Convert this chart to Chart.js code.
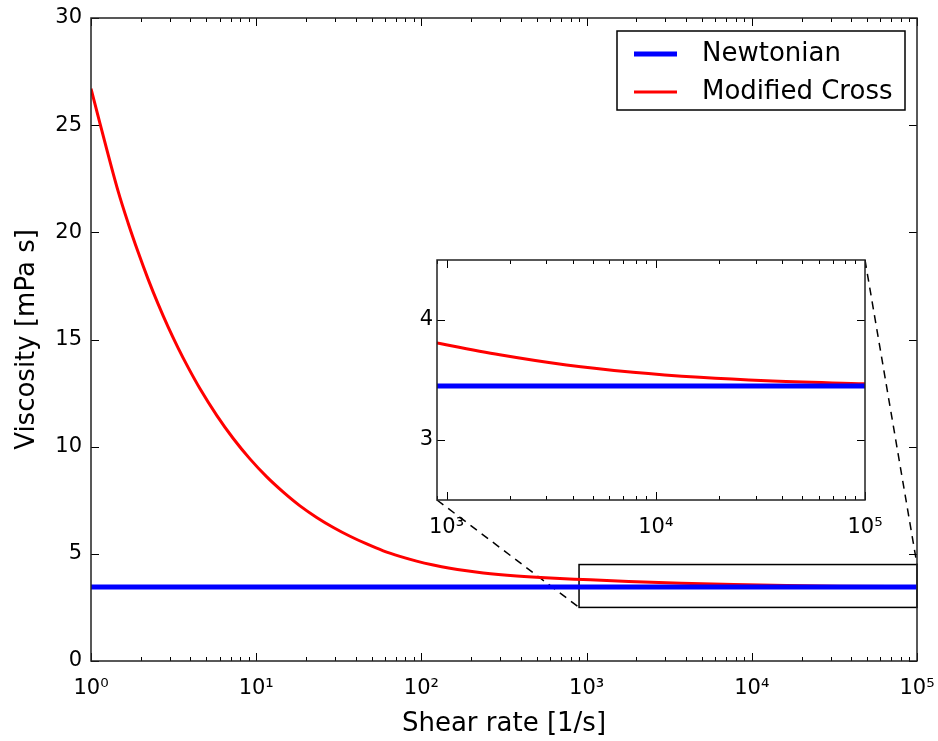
<!DOCTYPE html>
<html>
<head>
<meta charset="utf-8">
<script src="https://cdn.jsdelivr.net/npm/chart.js@4.4.0/dist/chart.umd.min.js"></script>
<style>
  html, body { margin: 0; padding: 0; background: #fff; }
  #wrap { position: relative; width: 938px; height: 741px; }
  #wrap canvas { position: absolute; left: 0; top: 0; }
</style>
</head>
<body>
<div id="wrap">
  <canvas id="mainChart" width="938" height="741"></canvas>
  <canvas id="insetChart" width="938" height="741"></canvas>
</div>
<script>
// --- data ---
const crossRate = [1, 1.132, 1.462, 1.675, 1.928, 2.213, 2.547, 2.924, 3.365, 3.864, 4.571, 5.768,
                   7.261, 9.162, 11.59, 14.59, 18.41, 23.23, 29.31, 36.98, 46.67, 58.75, 74.13, 93.54,
                   118, 148.9, 187.9, 237.1, 377.6, 602.6, 955, 1795, 3741, 7780, 16218, 33884, 100000];
const crossVisc = [26.70, 25.10, 21.90, 20.45, 19.08, 17.83, 16.66, 15.60, 14.61, 13.71, 12.70, 11.46,
                   10.38, 9.43, 8.59, 7.88, 7.24, 6.70, 6.23, 5.82, 5.46, 5.14, 4.88, 4.66,
                   4.48, 4.33, 4.21, 4.11, 3.97, 3.87, 3.80, 3.71, 3.625, 3.565, 3.522, 3.493, 3.468];
const newtonianRate = [1, 100000];
const newtonianVisc = [3.45, 3.45];

const seriesLabels = ['Newtonian', 'Modified Cross'];

const mainXMajor = [1, 10, 100, 1000, 10000, 100000];
const mainXLabels = ['10\u2070', '10\u00B9', '10\u00B2', '10\u00B3', '10\u2074', '10\u2075'];
const mainYTicks = [0, 5, 10, 15, 20, 25, 30];

const insetXMajor = [1000, 10000, 100000];
const insetXLabels = ['10\u00B3', '10\u2074', '10\u2075'];
const insetYTicks = [3, 4];

// zoomed region
const zoomX = [900, 100000];
const zoomY = [2.5, 4.5];

const FONT = 'DejaVu Sans';
Chart.defaults.color = '#000';
Chart.defaults.font.family = FONT;

function toPoints(xs, ys) {
    return xs.map((x, i) => ({ x: x, y: ys[i] }));
}

// log ticks: majors + 2..9 minors inside the range
function logTicks(majors, min, max) {
    const out = [];
    for (let k = -1; k < majors.length; k++) {
        const base = k < 0 ? majors[0] / 10 : majors[k];
        for (let m = 1; m <= 9; m++) {
            const v = base * m;
            if (v >= min * 0.999 && v <= max * 1.001) {
                out.push({ value: v, major: majors.includes(v) });
            }
        }
    }
    return out;
}

function datasetsFor() {
    return [{
        label: seriesLabels[0],
        data: toPoints(newtonianRate, newtonianVisc),
        borderColor: '#0000ff',
        borderWidth: 5,
        pointRadius: 0,
        showLine: true
    }, {
        label: seriesLabels[1],
        data: toPoints(crossRate, crossVisc),
        borderColor: '#ff0000',
        borderWidth: 3,
        pointRadius: 0,
        showLine: true,
        cubicInterpolationMode: 'monotone'
    }];
}

// no extra padding for overhanging labels, so the plot box stays put
function noPad(s) {
    s.paddingLeft = 0; s.paddingRight = 0; s.paddingTop = 0; s.paddingBottom = 0;
}

// inward ticks on all four sides plus the frame
const frameTicks = {
    id: 'frameTicks',
    afterDraw(chart) {
        const { ctx, chartArea: a, scales } = chart;
        ctx.save();
        ctx.strokeStyle = '#000';
        ctx.lineWidth = 1;
        ctx.beginPath();
        scales.x.ticks.forEach(t => {
            const px = Math.round(scales.x.getPixelForValue(t.value)) + 0.5;
            const len = t.major ? 8 : 4;
            ctx.moveTo(px, a.bottom); ctx.lineTo(px, a.bottom - len);
            ctx.moveTo(px, a.top); ctx.lineTo(px, a.top + len);
        });
        scales.y.ticks.forEach(t => {
            const py = Math.round(scales.y.getPixelForValue(t.value)) + 0.5;
            ctx.moveTo(a.left, py); ctx.lineTo(a.left + 8, py);
            ctx.moveTo(a.right, py); ctx.lineTo(a.right - 8, py);
        });
        ctx.stroke();
        ctx.lineWidth = 1.5;
        ctx.strokeStyle = '#222';
        ctx.strokeRect(a.left, a.top, a.right - a.left, a.bottom - a.top);
        ctx.restore();
    }
};

const whiteArea = {
    id: 'whiteArea',
    beforeDraw(chart) {
        const { ctx, chartArea: a } = chart;
        ctx.save();
        ctx.fillStyle = '#fff';
        ctx.fillRect(a.left, a.top, a.right - a.left, a.bottom - a.top);
        ctx.restore();
    }
};

// --- inset (drawn on a transparent overlay canvas) ---
const insetChart = new Chart(document.getElementById('insetChart'), {
    type: 'scatter',
    data: { datasets: datasetsFor() },
    options: {
        responsive: false,
        animation: false,
        events: [],
        layout: { padding: { left: 397, top: 260, right: 73, bottom: 206 } },
        plugins: { legend: { display: false }, tooltip: { enabled: false } },
        scales: {
            x: {
                type: 'logarithmic',
                min: zoomX[0], max: zoomX[1],
                grid: { display: false, drawTicks: false },
                border: { display: false },
                afterBuildTicks: s => { s.ticks = logTicks(insetXMajor, zoomX[0], zoomX[1]); },
                afterFit: s => { s.height = 35; noPad(s); },
                ticks: {
                    autoSkip: false, maxRotation: 0, padding: 15,
                    font: { size: 21 },
                    callback: v => { const i = insetXMajor.indexOf(v); return i >= 0 ? insetXLabels[i] : ''; }
                }
            },
            y: {
                min: zoomY[0], max: zoomY[1],
                grid: { display: false, drawTicks: false },
                border: { display: false },
                afterBuildTicks: s => { s.ticks = insetYTicks.map(v => ({ value: v })); },
                afterFit: s => { s.width = 40; noPad(s); },
                ticks: { padding: 4, font: { size: 21 } }
            }
        }
    },
    plugins: [whiteArea, frameTicks]
});

// zoom box, connectors and legend on the main chart
const insetMarks = {
    id: 'insetMarks',
    beforeDatasetsDraw(chart) {
        const { ctx, scales: { x, y } } = chart;
        const x0 = x.getPixelForValue(zoomX[0]), x1 = x.getPixelForValue(zoomX[1]);
        const y0 = y.getPixelForValue(zoomY[0]), y1 = y.getPixelForValue(zoomY[1]);
        ctx.save();
        ctx.strokeStyle = '#000';
        ctx.lineWidth = 1.5;
        ctx.strokeRect(x0, y1, x1 - x0, y0 - y1);
        const ia = insetChart.chartArea;
        ctx.setLineDash([8, 6]);
        ctx.beginPath();
        ctx.moveTo(ia.left, ia.bottom); ctx.lineTo(x0, y0);
        ctx.moveTo(ia.right, ia.top); ctx.lineTo(x1, y1);
        ctx.stroke();
        ctx.restore();
    }
};

const boxLegend = {
    id: 'boxLegend',
    afterDraw(chart) {
        const { ctx, chartArea: a } = chart;
        const w = 288, h = 79;
        const left = a.right - 12 - w, top = a.top + 13;
        ctx.save();
        ctx.fillStyle = '#fff';
        ctx.fillRect(left, top, w, h);
        ctx.strokeStyle = '#000';
        ctx.lineWidth = 1.5;
        ctx.strokeRect(left, top, w, h);
        ctx.font = '26px "' + FONT + '"';
        ctx.textBaseline = 'middle';
        ctx.fillStyle = '#000';
        chart.data.datasets.forEach((ds, i) => {
            const yy = top + 23 + i * 38;
            ctx.strokeStyle = ds.borderColor;
            ctx.lineWidth = ds.borderWidth;
            ctx.beginPath();
            ctx.moveTo(left + 17, yy); ctx.lineTo(left + 60, yy);
            ctx.stroke();
            ctx.fillText(ds.label, left + 85, yy);
        });
        ctx.restore();
    }
};

const mainChart = new Chart(document.getElementById('mainChart'), {
    type: 'scatter',
    data: { datasets: datasetsFor() },
    options: {
        responsive: false,
        animation: false,
        events: [],
        layout: { padding: { left: 0, top: 18, right: 21, bottom: 0 } },
        plugins: { legend: { display: false }, tooltip: { enabled: false } },
        scales: {
            x: {
                type: 'logarithmic',
                min: mainXMajor[0], max: mainXMajor[mainXMajor.length - 1],
                grid: { display: false, drawTicks: false },
                border: { display: false },
                afterBuildTicks: s => { s.ticks = logTicks(mainXMajor, mainXMajor[0], mainXMajor[mainXMajor.length - 1]); },
                afterFit: s => { s.height = 80; noPad(s); },
                ticks: {
                    autoSkip: false, maxRotation: 0, padding: 15,
                    font: { size: 21 },
                    callback: v => { const i = mainXMajor.indexOf(v); return i >= 0 ? mainXLabels[i] : ''; }
                },
                title: { display: true, text: 'Shear rate [1/s]', font: { size: 26 }, padding: { bottom: 1 } }
            },
            y: {
                min: 0, max: 30,
                grid: { display: false, drawTicks: false },
                border: { display: false },
                afterBuildTicks: s => { s.ticks = mainYTicks.map(v => ({ value: v })); },
                afterFit: s => { s.width = 91; noPad(s); },
                ticks: { padding: 9, font: { size: 21 } },
                title: { display: true, text: 'Viscosity [mPa s]', font: { size: 26 }, padding: { top: 12 } }
            }
        }
    },
    plugins: [insetMarks, frameTicks, boxLegend]
});
</script>
</body>
</html>
